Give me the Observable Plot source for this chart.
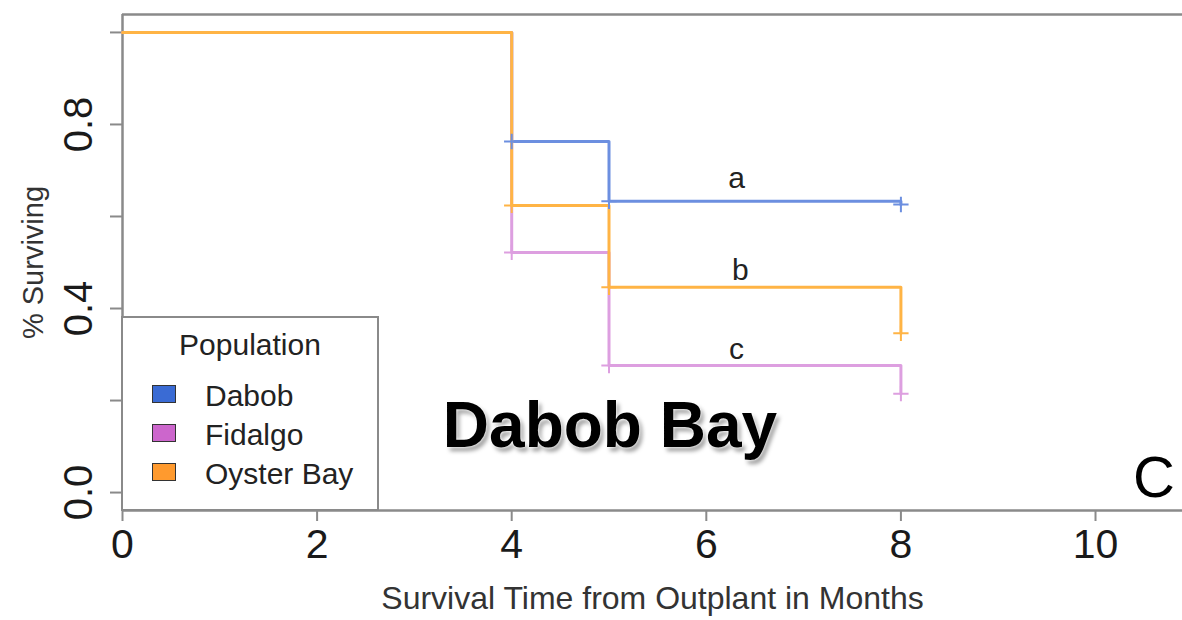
<!DOCTYPE html>
<html>
<head>
<meta charset="utf-8">
<script src="https://cdn.jsdelivr.net/npm/d3@7"></script>
<script src="https://cdn.jsdelivr.net/npm/@observablehq/plot@0.6"></script>
<style>
  html, body { margin: 0; padding: 0; background: #fff; }
  #wrap { position: relative; width: 1182px; height: 620px; font-family: "Liberation Sans", Arial, sans-serif; }
  #legend { position: absolute; left: 121px; top: 316px; width: 258px; height: 195px; box-sizing: border-box;
            border: 2px solid #8a8a8a; background: #fff; }
  .lg-title { position: absolute; left: 0; width: 100%; text-align: center; font-size: 30px; line-height: 1; color: #222; }
  .lg-sw { position: absolute; width: 24px; height: 18px; border: 1px solid #333; box-sizing: border-box; }
  .lg-lab { position: absolute; font-size: 30px; line-height: 1; color: #222; white-space: nowrap; }
  #site { position: absolute; left: 610px; top: 393px; transform: translateX(-50%); font-size: 64px; font-weight: bold;
          line-height: 1; color: #000; white-space: nowrap;
          text-shadow: 0 0 2px #fff, 0 0 4px #fff, 3px 4px 4px rgba(0,0,0,0.4); }
  #panel { position: absolute; left: 1133px; top: 448px; font-size: 58px; line-height: 1; color: #000; }
</style>
</head>
<body>
<div id="wrap"></div>
<script>
// ---- data ----
const populations = ["Dabob", "Fidalgo", "Oyster Bay"];
const times = [0, 4, 5, 8];
const dabob = [1.0, 0.763, 0.633, 0.626];
const fidalgo = [1.0, 0.522, 0.276, 0.215];
const oysterBay = [1.0, 0.624, 0.446, 0.346];
const censorTimes = [4, 5, 8];
const groupLetters = ["a", "b", "c"];
const letterX = [6.31, 6.35, 6.31];
const letterY = [0.682, 0.482, 0.312];
const xTicks = [0, 2, 4, 6, 8, 10];
const yTicks = [0, 0.2, 0.4, 0.6, 0.8, 1.0];
const yTickLabels = [0, 0.4, 0.8];
const xLabel = "Survival Time from Outplant in Months";
const yLabel = "% Surviving";
const legendTitle = "Population";
const siteTitle = "Dabob Bay";
const panelLetter = "C";

// ---- styling ----
const lineColors = ["#6c8fe0", "#dd9fe0", "#ffb445"];
const swatchColors = ["#3a6bd4", "#cc66cc", "#ff9a2e"];
const xDomain = [0, 10.894];
const yDomain = [-0.039, 1.039];

const series = [dabob, fidalgo, oysterBay];
const rows = [];
populations.forEach((p, i) => times.forEach((t, j) => rows.push({pop: p, t, s: series[i][j]})));
const censorRows = rows.filter(d => censorTimes.includes(d.t));
const letters = groupLetters.map((l, i) => ({l, x: letterX[i], y: letterY[i]}));

const gray = "#8a8a8a";
const chart = Plot.plot({
  width: 1182,
  height: 620,
  marginLeft: 122,
  marginRight: 0,
  marginTop: 14,
  marginBottom: 110,
  style: {fontFamily: "'Liberation Sans', Arial, sans-serif", background: "#fff", overflow: "visible"},
  x: {domain: xDomain},
  y: {domain: yDomain},
  color: {domain: populations, range: lineColors},
  marks: [
    Plot.ruleX([xDomain[0]], {stroke: gray, strokeWidth: 2.5}),
    Plot.ruleY(yDomain, {stroke: gray, strokeWidth: 2.5}),
    Plot.axisX({ticks: xTicks, tickSize: 11, tickPadding: 7, fontSize: 41, stroke: gray, strokeWidth: 2, fill: "#1a1a1a", label: null}),
    Plot.axisY({ticks: yTicks, tickSize: 12, tickFormat: () => "", stroke: gray, strokeWidth: 2, label: null}),
    Plot.text(yTickLabels, {y: d => d, frameAnchor: "left", textAnchor: "middle", dx: -43, rotate: -90, text: d => d.toFixed(1), fontSize: 40, fill: "#1a1a1a"}),
    Plot.text([yLabel], {frameAnchor: "left", textAnchor: "middle", dx: -89, rotate: -90, text: d => d, fontSize: 29, fill: "#333"}),
    Plot.text([xLabel], {frameAnchor: "bottom", textAnchor: "middle", dy: 98, text: d => d, fontSize: 32, fill: "#333"}),
    Plot.line(rows, {x: "t", y: "s", z: "pop", stroke: "pop", curve: "step-after", strokeWidth: 3}),
    Plot.dot(censorRows, {x: "t", y: "s", stroke: "pop", symbol: "plus", r: 5, strokeWidth: 2}),
    Plot.text(letters, {x: "x", y: "y", text: "l", fontSize: 30, fill: "#222"})
  ]
});

const wrap = document.getElementById("wrap");
wrap.appendChild(chart);

// legend (inside the plot area)
const lg = document.createElement("div");
lg.id = "legend";
const title = document.createElement("div");
title.className = "lg-title";
title.style.top = "12px";
title.textContent = legendTitle;
lg.appendChild(title);
populations.forEach((p, i) => {
  const sw = document.createElement("div");
  sw.className = "lg-sw";
  sw.style.left = "29px";
  sw.style.top = (67 + i * 39) + "px";
  sw.style.background = swatchColors[i];
  lg.appendChild(sw);
  const lab = document.createElement("div");
  lab.className = "lg-lab";
  lab.style.left = "82px";
  lab.style.top = (63 + i * 39) + "px";
  lab.textContent = p;
  lg.appendChild(lab);
});
wrap.appendChild(lg);

const site = document.createElement("div");
site.id = "site";
site.textContent = siteTitle;
wrap.appendChild(site);

const panel = document.createElement("div");
panel.id = "panel";
panel.textContent = panelLetter;
wrap.appendChild(panel);
</script>
</body>
</html>
